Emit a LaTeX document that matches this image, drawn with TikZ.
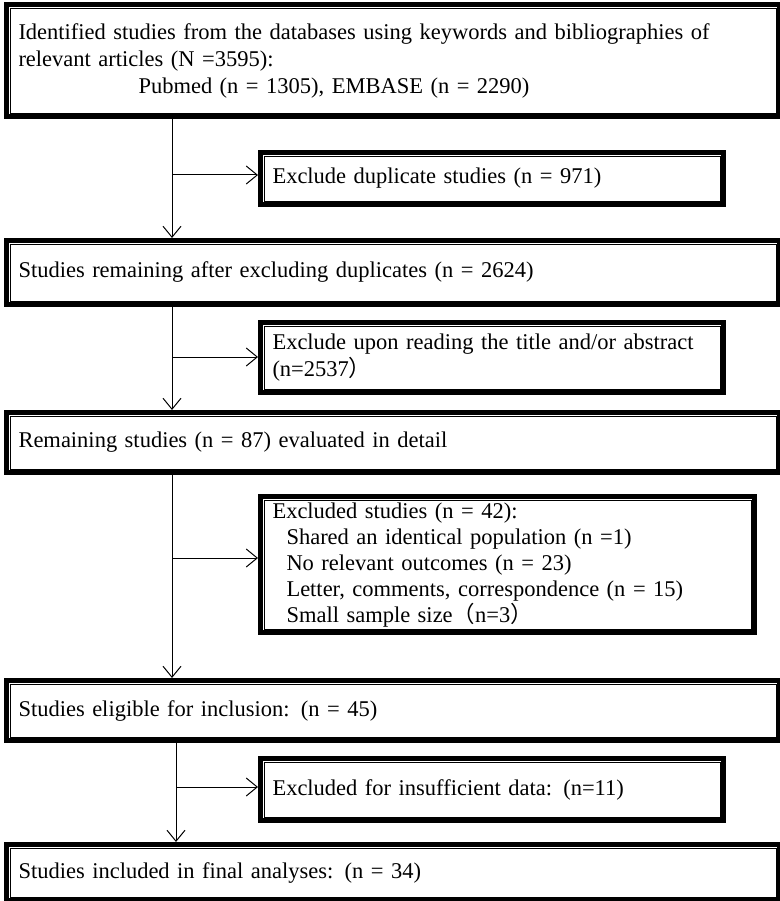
\documentclass[tikz,border=0pt]{standalone}
\usepackage{fontspec}
\setmainfont{Liberation Serif}
\newfontfamily\cjk{Noto Sans CJK SC}
\usetikzlibrary{arrows.meta, positioning, calc}
\tikzset{
    frame/.style={
        draw=black,
        line width=5pt,
        shape=rectangle,
        anchor=north west,
        inner xsep=12pt,
        inner ysep=4pt,
        align=left,
        font=\fontsize{22.5}{27}\selectfont,
        path picture={\draw[line width=0.8pt]
            ([shift={(3.5pt,3.5pt)}]path picture bounding box.south west) rectangle
            ([shift={(-3.5pt,-3.5pt)}]path picture bounding box.north east);},
    },
    wide/.style={frame, text width=749pt, minimum width=771pt},
    side/.style={frame, text width=439pt, minimum width=461pt},
    >={Straight Barb[length=11pt,width=18pt]},
    link/.style={draw=black, line width=1pt}
}
\begin{document}
\begin{tikzpicture}[x=1pt, y=-1pt]
\useasboundingbox (0,0) rectangle (779,901);
\node[wide, minimum height=112pt] (identified) at (4,2)
  {Identified studies from the databases using keywords and bibliographies of\\
   relevant articles (N =3595):\\
   \hspace*{120pt}Pubmed (n = 1305), EMBASE (n = 2290)};
\node[side, minimum height=52pt] (duplicates) at (258,150) {Exclude duplicate studies (n = 971)};
\node[wide, minimum height=64pt] (remaining) at (4,238) {Studies remaining after excluding duplicates (n = 2624)};
\node[side, minimum height=70pt] (titleabs) at (258,320) {Exclude upon reading the title and/or abstract\\(n=2537{\cjk ）}};
\node[wide, minimum height=60pt] (detail) at (4,410) {Remaining studies (n = 87) evaluated in detail};
\node[frame, text width=470pt, minimum width=492pt, minimum height=136pt, inner ysep=6pt,
      font=\fontsize{22.5}{26}\selectfont] (excluded) at (258,494)
  {Excluded studies (n = 42):\\
   \hspace*{14pt}Shared an identical population (n =1)\\
   \hspace*{14pt}No relevant outcomes (n = 23)\\
   \hspace*{14pt}Letter, comments, correspondence (n = 15)\\
   \hspace*{14pt}Small sample size{\cjk （}n=3{\cjk ）}};
\node[wide, minimum height=60pt] (eligible) at (4,678) {Studies eligible for inclusion: (n = 45)};
\node[side, minimum height=62pt] (insufficient) at (258,756) {Excluded for insufficient data: (n=11)};
\node[wide, minimum height=56pt] (final) at (4,842) {Studies included in final analyses: (n = 34)};

% trunk and side branches
\coordinate (b1) at (172,175);
\coordinate (b2) at (172,357);
\coordinate (b3) at (172,558);
\coordinate (b4) at (176,787);
\draw[link,->] (identified.south -| b1) -- (remaining.north -| b1);
\draw[link,->] (remaining.south -| b2) -- (detail.north -| b2);
\draw[link,->] (detail.south -| b3) -- (eligible.north -| b3);
\draw[link,->] (eligible.south -| b4) -- (final.north -| b4);
\draw[link,->] (b1) -- (b1 -| duplicates.west);
\draw[link,->] (b2) -- (b2 -| titleabs.west);
\draw[link,->] (b3) -- (b3 -| excluded.west);
\draw[link,->] (b4) -- (b4 -| insufficient.west);
\end{tikzpicture}
\end{document}
